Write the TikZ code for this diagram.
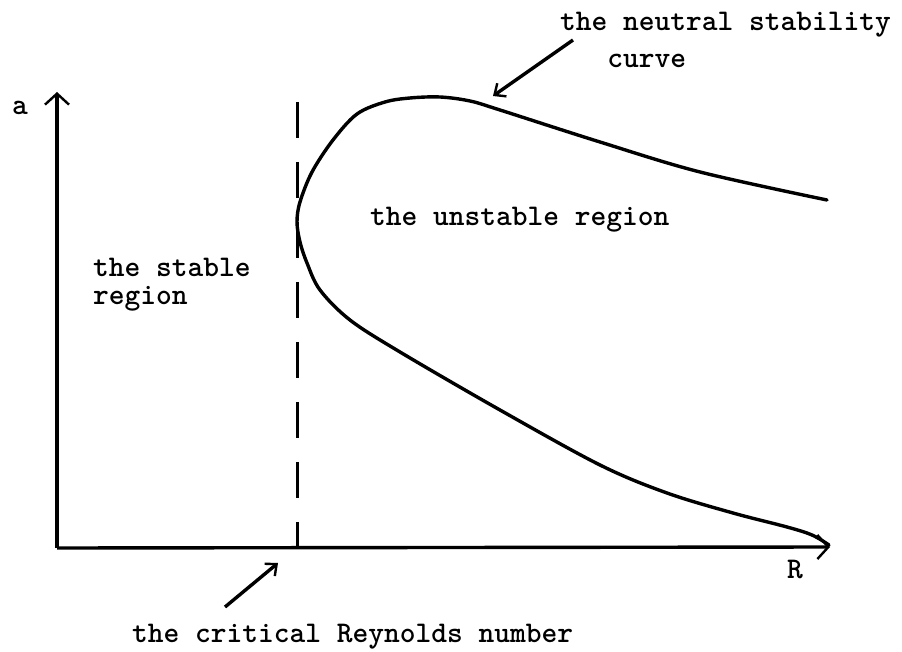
\documentclass[tikz,border=0pt]{standalone}
\usetikzlibrary{arrows.meta}
\begin{document}
\begin{tikzpicture}[x=1pt, y=-1pt,
    lbl/.style={font=\ttfamily\bfseries\fontsize{30}{28}\selectfont, inner sep=0pt, anchor=base west, align=left},
    axis/.style={line width=3.4pt, -{Straight Barb[length=11pt, width=24pt, line width=2.4pt]}},
    pointer/.style={line width=3.4pt, -{Straight Barb[length=9pt, width=16pt, line width=2.4pt]}},
    critline/.style={line width=3pt, dash pattern=on 36pt off 24pt},
    neutral/.style={line width=3.4pt, line join=round, line cap=round}]
  \useasboundingbox (0,0) rectangle (902,652);
  % axes
  \coordinate (O) at (57,548);
  \coordinate (atip) at (57,92);
  \coordinate (Rtip) at (830,547);
  \draw[axis] (O) -- (atip);
  \draw[axis] (O) -- (Rtip);
  \node[lbl] (alab) at (12,115) {a};
  \node[lbl] (rlab) at (787,578) {R};
  % critical Reynolds number
  \coordinate (Rc) at (297,548);
  \coordinate (Rctop) at (297,102);
  \draw[critline] (Rctop) -- (Rc);
  % neutral stability curve
  \draw[neutral] plot[smooth, tension=0.55] coordinates {
      (827,200) (700,172) (600,142) (500,110) (470,101) (440,97) (410,98)
      (385,102) (357,114) (333,140) (312,172) (300,202) (297,222)
      (300,242) (307,263) (320,290) (350,320) (400,352) (500,410) (600,465)
      (667,493) (733,513) (787,527) (812,535) (829,545)};
  % labels
  \node[lbl] (stab) at (93,305) {the stable\\region};
  \node[lbl] (unstab) at (370,226) {the unstable region};
  \node[lbl, font=\ttfamily\bfseries\fontsize{30}{37}\selectfont] (ncurve) at (560,68)
      {the neutral stability\\\phantom{xxx}curve};
  \node[lbl] (crlab) at (132,642) {the critical Reynolds number};
  \coordinate (ntail) at (573,40);
  \coordinate (nhead) at (493,96);
  \draw[pointer] (ntail) -- (nhead);
  \coordinate (ctail) at (225,607);
  \coordinate (chead) at (278,563);
  \draw[pointer] (ctail) -- (chead);
\end{tikzpicture}
\end{document}
